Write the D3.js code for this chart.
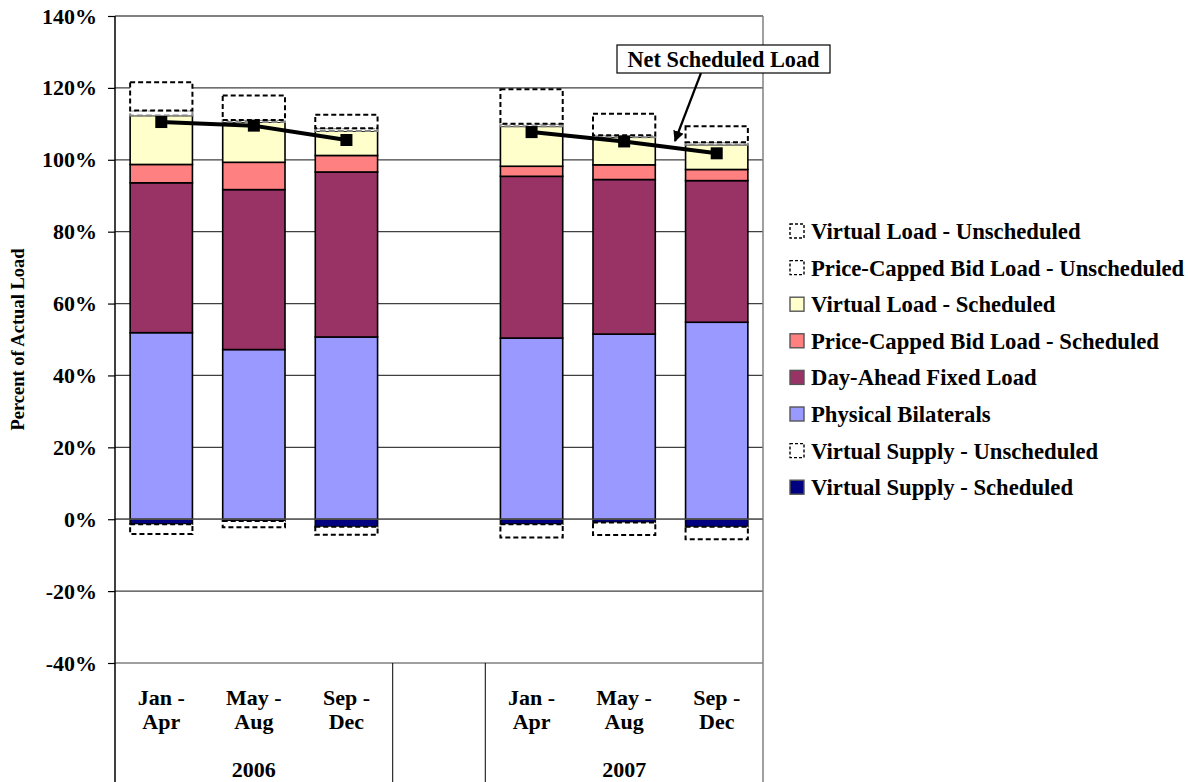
<!DOCTYPE html>
<html>
<head>
<meta charset="utf-8">
<script src="https://cdn.jsdelivr.net/npm/d3@7"></script>
<style>
  body { margin: 0; background: #fff; }
  text { font-family: "Liberation Serif", "Times New Roman", serif; font-weight: bold; fill: #000; }
</style>
</head>
<body>
<script>
// categories
const years = ["2006", "2007"];
const periods = ["Jan - Apr", "May - Aug", "Sep - Dec"];

// series values, percent of actual load
const physBilat = [51.9, 47.2, 50.7, 50.4, 51.5, 54.8];
const dayAhead  = [41.7, 44.5, 45.9, 45.0, 43.0, 39.4];
const pcSched   = [5.1, 7.6, 4.6, 2.8, 4.1, 3.1];
const vlSched   = [13.6, 11.2, 6.8, 11.1, 7.7, 6.9];
const pcUnsched = [1.4, 0.6, 0.8, 0.7, 0.5, 0.7];
const vlUnsched = [7.9, 6.8, 3.7, 9.6, 6.0, 4.4];
const vsSched   = [-1.4, -0.5, -2.1, -1.4, -0.9, -2.1];
const vsUnsched = [-2.7, -1.7, -2.2, -3.7, -3.5, -3.5];
const netSched  = [110.5, 109.5, 105.5, 107.7, 105.1, 101.8];

// tick labels
const yTicks = [-40, -20, 0, 20, 40, 60, 80, 100, 120, 140];

// series definitions (stack order) and styles
const series = [
  {key: "vss", name: "Virtual Supply - Scheduled", vals: vsSched, fill: "#000080", stroke: "#000", dash: null},
  {key: "vsu", name: "Virtual Supply - Unscheduled", vals: vsUnsched, fill: "#fff", stroke: "#000", dash: "5,3"},
  {key: "pb", name: "Physical Bilaterals", vals: physBilat, fill: "#9999ff", stroke: "#000", dash: null},
  {key: "da", name: "Day-Ahead Fixed Load", vals: dayAhead, fill: "#993366", stroke: "#000", dash: null},
  {key: "pcs", name: "Price-Capped Bid Load - Scheduled", vals: pcSched, fill: "#ff8080", stroke: "#000", dash: null},
  {key: "vls", name: "Virtual Load - Scheduled", vals: vlSched, fill: "#ffffcc", stroke: "#000", dash: null},
  {key: "pcu", name: "Price-Capped Bid Load - Unscheduled", vals: pcUnsched, fill: "#fff", stroke: "#888", dash: "6,3"},
  {key: "vlu", name: "Virtual Load - Unscheduled", vals: vlUnsched, fill: "#fff", stroke: "#000", dash: "5,3"}
];
const legendOrder = ["vlu", "pcu", "vls", "pcs", "da", "pb", "vsu", "vss"];

// slots: 3 periods, an empty gap, 3 periods
const slots = [];
years.forEach((yr, i) => {
  periods.forEach(p => slots.push(yr + " " + p));
  if (i < years.length - 1) slots.push("gap");
});
const barSlots = slots.filter(s => s !== "gap");

// rows for the stack
const rows = barSlots.map((s, i) => {
  const r = {slot: s};
  series.forEach(se => r[se.key] = se.vals[i]);
  return r;
});

const svg = d3.select("body").append("svg")
  .attr("width", 1188)
  .attr("height", 782);

const plotLeft = 115, plotRight = 763, plotTop = 16, plotBottom = 663;

const x = d3.scaleBand()
  .domain(slots)
  .range([plotLeft, plotRight])
  .paddingInner(0.327)
  .paddingOuter(0.1635);

const y = d3.scaleLinear()
  .domain([-40, 140])
  .range([plotBottom, plotTop]);

// gridlines
svg.append("g")
  .selectAll("line")
  .data(yTicks)
  .enter()
  .append("line")
    .attr("x1", plotLeft)
    .attr("x2", plotRight)
    .attr("y1", d => y(d))
    .attr("y2", d => y(d))
    .style("stroke", d => d === 140 ? "#808080" : "#404040")
    .style("stroke-width", d => d === 140 ? 2 : 1.2);

// right border
svg.append("line")
  .attr("x1", plotRight).attr("x2", plotRight)
  .attr("y1", plotTop).attr("y2", 782)
  .style("stroke", "#808080")
  .style("stroke-width", 1.5);

// stacked bars
const stack = d3.stack()
  .keys(series.map(s => s.key))
  .offset(d3.stackOffsetDiverging);
const stacked = stack(rows);

svg.append("g")
  .selectAll("g")
  .data(stacked)
  .enter()
  .append("g")
    .each(function(layer, i) {
      const se = series[i];
      d3.select(this).selectAll("rect")
        .data(layer)
        .enter()
        .append("rect")
          .attr("x", d => x(d.data.slot))
          .attr("width", x.bandwidth())
          .attr("y", d => y(Math.max(d[0], d[1])))
          .attr("height", d => Math.abs(y(d[0]) - y(d[1])))
          .style("fill", se.fill)
          .style("stroke", se.stroke)
          .style("stroke-width", se.dash ? 2 : 1.6)
          .style("stroke-dasharray", se.dash);
    });

// zero line over bars
svg.append("line")
  .attr("x1", plotLeft).attr("x2", plotRight)
  .attr("y1", y(0)).attr("y2", y(0))
  .style("stroke", "#606060")
  .style("stroke-width", 1.2);

// net scheduled load line, one per year
const line = d3.line()
  .x(d => x(d.slot) + x.bandwidth() / 2)
  .y(d => y(d.v));

years.forEach((yr, yi) => {
  const pts = periods.map((p, pi) => ({slot: yr + " " + p, v: netSched[yi * periods.length + pi]}));
  svg.append("path")
    .datum(pts)
    .attr("d", line)
    .style("fill", "none")
    .style("stroke", "#000")
    .style("stroke-width", 4);
  svg.selectAll(".mk" + yr)
    .data(pts)
    .enter()
    .append("rect")
      .attr("x", d => x(d.slot) + x.bandwidth() / 2 - 6)
      .attr("y", d => y(d.v) - 6)
      .attr("width", 12)
      .attr("height", 12)
      .style("fill", "#000");
});

// y axis
const yAxis = d3.axisLeft(y)
  .tickValues(yTicks)
  .tickFormat(d => d + "%")
  .tickSize(7)
  .tickPadding(11);

const yg = svg.append("g")
  .attr("transform", "translate(" + plotLeft + ",0)")
  .call(yAxis);
yg.select(".domain").remove();
yg.selectAll(".tick line").style("stroke", "#000").style("stroke-width", 1.2);
yg.selectAll(".tick text")
  .style("font-family", "'Liberation Serif', 'Times New Roman', serif")
  .style("font-weight", "bold")
  .style("font-size", "22px")
  .style("fill", "#000");

svg.append("line")
  .attr("x1", plotLeft).attr("x2", plotLeft)
  .attr("y1", plotTop).attr("y2", 782)
  .style("stroke", "#000")
  .style("stroke-width", 1.5);

// category axis dividers
const dividers = [x.domain()[3], x.domain()[4]].map(s => x(s) - x.step() * x.paddingInner() / 2);
svg.selectAll(".divider")
  .data(dividers)
  .enter()
  .append("line")
    .attr("x1", d => d).attr("x2", d => d)
    .attr("y1", plotBottom).attr("y2", 782)
    .style("stroke", "#000")
    .style("stroke-width", 1);

// category labels
barSlots.forEach(s => {
  const p = s.slice(5).split(" - ");
  const cx = x(s) + x.bandwidth() / 2;
  svg.append("text")
    .attr("x", cx).attr("y", 705)
    .attr("text-anchor", "middle")
    .style("font-size", "22px")
    .text(p[0] + " -");
  svg.append("text")
    .attr("x", cx).attr("y", 729)
    .attr("text-anchor", "middle")
    .style("font-size", "22px")
    .text(p[1]);
});

years.forEach(yr => {
  const a = x(yr + " " + periods[0]), b = x(yr + " " + periods[2]) + x.bandwidth();
  svg.append("text")
    .attr("x", (a + b) / 2).attr("y", 777)
    .attr("text-anchor", "middle")
    .style("font-size", "22px")
    .text(yr);
});

// y axis title
svg.append("text")
  .attr("transform", "translate(24," + ((plotTop + plotBottom) / 2) + ") rotate(-90)")
  .attr("text-anchor", "middle")
  .style("font-size", "18.5px")
  .text("Percent of Actual Load");

// annotation
svg.append("defs").append("marker")
  .attr("id", "arrow")
  .attr("viewBox", "0 0 10 10")
  .attr("refX", 9).attr("refY", 5)
  .attr("markerWidth", 5).attr("markerHeight", 5)
  .attr("orient", "auto")
  .append("path")
    .attr("d", "M0,0 L10,5 L0,10 z")
    .style("fill", "#000");

svg.append("line")
  .attr("x1", 701).attr("y1", 73)
  .attr("x2", 675).attr("y2", 141)
  .style("stroke", "#000")
  .style("stroke-width", 2.2)
  .attr("marker-end", "url(#arrow)");

svg.append("rect")
  .attr("x", 617).attr("y", 45)
  .attr("width", 213).attr("height", 28)
  .style("fill", "#fff")
  .style("stroke", "#000")
  .style("stroke-width", 1.2);
svg.append("text")
  .attr("x", 723.5).attr("y", 66.5)
  .attr("text-anchor", "middle")
  .style("font-size", "22.3px")
  .text("Net Scheduled Load");

// legend
const legend = svg.append("g")
  .selectAll("g")
  .data(legendOrder.map(k => series.find(s => s.key === k)))
  .enter()
  .append("g")
    .attr("transform", (d, i) => "translate(790," + (231 + i * 36.6) + ")");

legend.append("rect")
  .attr("x", 0).attr("y", -7)
  .attr("width", 14).attr("height", 14)
  .style("fill", d => d.fill)
  .style("stroke", d => d.dash ? "#000" : "#555")
  .style("stroke-width", 1.4)
  .style("stroke-dasharray", d => d.dash ? "3,2" : null);

legend.append("text")
  .attr("x", 21).attr("y", 0)
  .attr("dy", "0.35em")
  .style("font-size", "22.7px")
  .text(d => d.name);
</script>
</body>
</html>
